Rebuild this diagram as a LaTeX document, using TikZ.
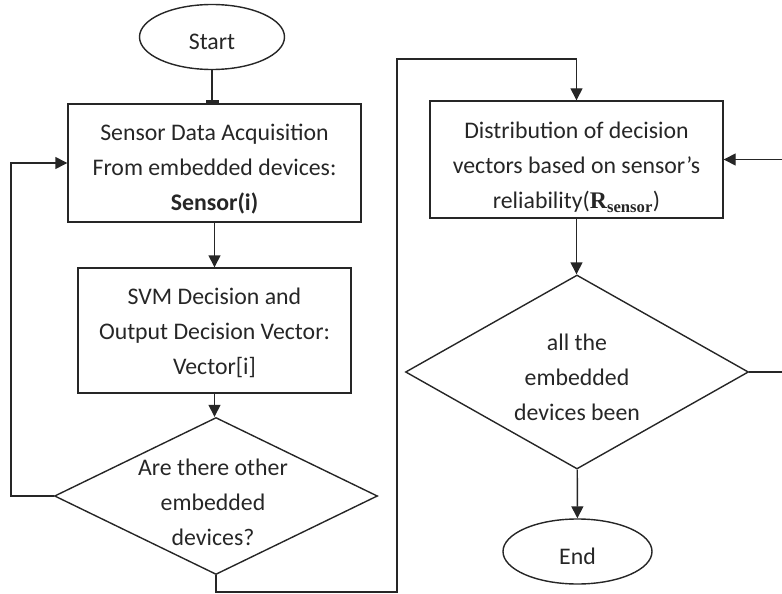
\documentclass[tikz,border=0pt]{standalone}
\usepackage{fontspec}
\setmainfont{Carlito}
\newfontfamily\serifbold{Liberation Serif}
\usetikzlibrary{shapes.geometric,arrows.meta}
\tikzset{process/.style={draw, rectangle, inner sep=0pt},
         decision/.style={draw, diamond, inner sep=0pt},
         terminal/.style={draw, ellipse, inner sep=0pt, minimum width=145pt, minimum height=65pt,
                          text height=25pt, text depth=0pt},
         txt/.style={align=center, inner sep=0pt},
         arr/.style={-{Triangle[length=12pt,width=12pt]}}}

\begin{document}
\begin{tikzpicture}[x=1pt,y=-1pt,line width=1.4pt,color=black!85,
                    font=\fontsize{23.8}{35}\selectfont]
            \useasboundingbox (0,0) rectangle (782,594);
            \clip (0,0) rectangle (782,594);

            % left column
            \node[terminal] (start) at (212,37) {Start};
            \node[process, minimum width=293pt, minimum height=118pt] (acq) at (214.5,163) {};
            \node[txt] (acqtext) at (214.5,169)
                {Sensor Data Acquisition\\From embedded devices:\\\textbf{Sensor(i)}};
            \node[process, minimum width=273pt, minimum height=125pt] (svm) at (214.5,330.5) {};
            \node[txt] (svmtext) at (214.5,333)
                {SVM Decision and\\Output Decision Vector:\\Vector[i]};
            \node[decision, minimum width=323pt, minimum height=157pt] (more) at (216,496) {};
            \node[txt] (moretext) at (213,502) {Are there other\\embedded\\devices?};

            % right column
            \node[process, minimum width=293pt, minimum height=117pt] (dist) at (576.5,159.5) {};
            \node[txt] (disttext) at (576.5,167.5)
                {Distribution of decision\\vectors based on sensor's\\reliability({\serifbold\bfseries R\textsubscript{sensor}})};
            \node[decision, minimum width=343pt, minimum height=194pt] (done) at (577,372) {};
            \node[txt] (donetext) at (577,377) {all the\\embedded\\devices been};
            \node[terminal, minimum width=149pt] (end) at (577.5,551.5) {End};

            \coordinate (jump) at (397,592);
            \coordinate (top) at (dist.north |- 0,59);

            \draw[-{Rectangle[length=3pt,width=13pt]}] (start) -- (start |- acq.north);
            \draw[arr] (acq) -- (svm);
            \draw[arr] (svm.south) -- (svm.south |- more.north);
            \draw[arr] (more.west) -- ++(-43,0) |- (acq.west);
            \draw[arr] (more.south) |- (jump) |- (top) -- (dist.north);
            \draw[arr] (dist.south) -- (dist.south |- done.north);
            \draw[arr] (done.east) -- ++(50,0) |- (dist.east);
            \draw[arr] (done) -- (end);
        \end{tikzpicture}
\end{document}
